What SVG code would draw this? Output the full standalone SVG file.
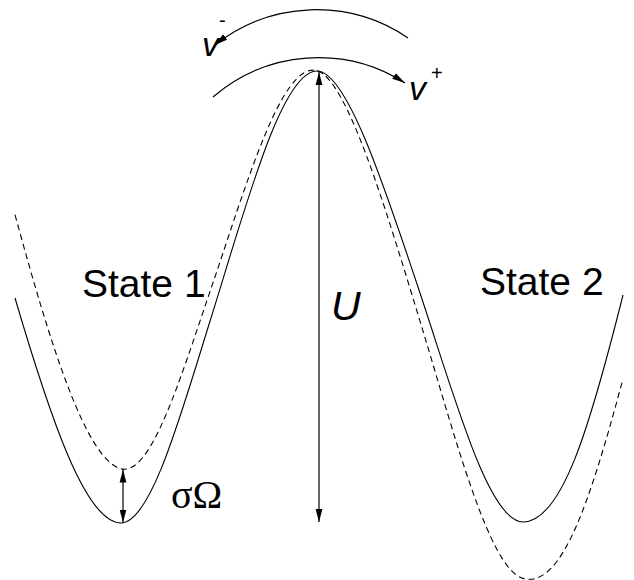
<svg xmlns="http://www.w3.org/2000/svg" width="634" height="580" viewBox="0 0 634 580">
<style>
.curve{fill:none;stroke:#000;stroke-width:1.1}
.dash{stroke-dasharray:6 4}
.arr{fill:none;stroke:#000;stroke-width:1.2}
.sans{font-family:"Liberation Sans",Arial,sans-serif;fill:#000}
.it{font-style:italic}
.serif{font-family:"Liberation Serif","Times New Roman",serif;fill:#000}
</style>
<defs>
<marker id="ah" markerUnits="userSpaceOnUse" markerWidth="14" markerHeight="8" refX="13" refY="4" orient="auto-start-reverse">
<path d="M0,0.6 L13,4 L0,7.4 Z" fill="#000"/>
</marker>
</defs>
<rect width="634" height="580" fill="#fff"/>
<g id="potential-solid">
<path class="curve" d="M15,298 C50.3,418 85.7,523 121,523 C151,523 181,414 211,318 C246.3,205 281.7,71 317,71 C347,71 385.7,190 420,293 C454.3,396 488.7,522 523,522 C561.7,522 589.7,428 623,295"/>
</g>
<g id="potential-dashed">
<path class="curve dash" d="M15,214.7 C50.3,344.4 85.7,459.1 121,468.8 C151,477.1 181,376.3 211,288.6 C246.3,185.3 281.7,61 317,70.7 C347,79 385.7,208.6 420,321.1 C454.3,433.5 488.7,568.9 523,578.4 C561.7,589 589.7,502.7 623,378.9"/>
</g>
<g id="connectors">
<path class="arr" d="M319,72 L319,522" marker-start="url(#ah)" marker-end="url(#ah)"/>
<path class="arr" d="M123,469.5 L123,522.5" marker-start="url(#ah)" marker-end="url(#ah)"/>
<path class="arr" d="M408,38 A163,163 0 0 0 215,45" marker-end="url(#ah)"/>
<path class="arr" d="M213,97 A161,161 0 0 1 405,83" marker-end="url(#ah)"/>
</g>
<g id="label-state1"><text class="sans" x="82" y="297" font-size="39">State 1</text></g>
<g id="label-state2"><text class="sans" x="480" y="295" font-size="39">State 2</text></g>
<g id="label-U"><text class="sans it" x="331" y="320" font-size="41">U</text></g>
<g id="label-sigma"><text class="serif" x="171" y="508" font-size="40">σΩ</text></g>
<g id="label-vminus"><text class="sans it" x="202" y="56" font-size="34">v</text><text class="sans" x="219" y="27" font-size="20">-</text></g>
<g id="label-vplus"><text class="sans it" x="409" y="100" font-size="34">v</text><text class="sans" x="431" y="80" font-size="20">+</text></g>
</svg>
